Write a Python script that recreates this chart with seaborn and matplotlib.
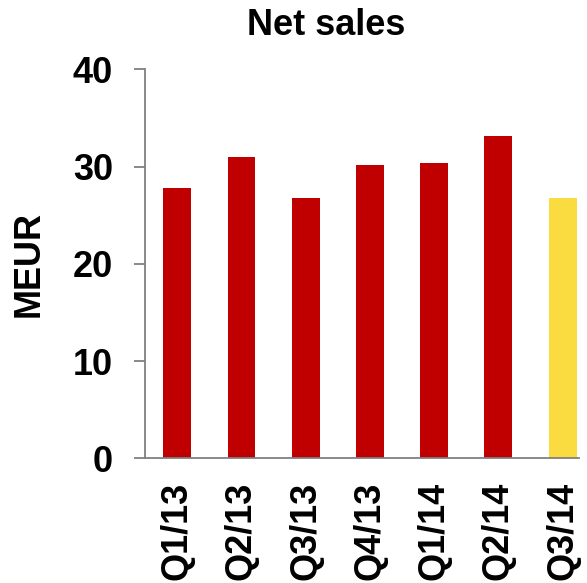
import matplotlib
matplotlib.use("Agg")
import matplotlib.pyplot as plt
import seaborn as sns
import pandas as pd

quarters = ["Q1/13", "Q2/13", "Q3/13", "Q4/13", "Q1/14", "Q2/14", "Q3/14"]
net_sales = [27.8, 31.0, 26.8, 30.2, 30.4, 33.1, 26.8]
bar_colors = ["#C00000", "#C00000", "#C00000", "#C00000", "#C00000", "#C00000", "#FADC40"]
y_ticks = [0, 10, 20, 30, 40]

sns.set_theme(style="white")
plt.rcParams["font.family"] = ["Liberation Sans", "DejaVu Sans"]
plt.rcParams["text.color"] = "black"
plt.rcParams["xtick.color"] = "black"
plt.rcParams["ytick.color"] = "black"

df = pd.DataFrame({"quarter": quarters, "sales": net_sales})

fig = plt.figure(figsize=(5.87, 5.83), dpi=100)
ax = fig.add_axes([0.247, 0.214, 0.740, 0.667])

sns.barplot(data=df, x="quarter", y="sales", hue="quarter",
            palette=dict(zip(quarters, bar_colors)), width=0.435,
            legend=False, ax=ax, saturation=1, linewidth=0)

ax.set_ylim(0, 40)
ax.set_xlim(-0.502, 6.26)
ax.set_yticks(y_ticks)
ax.set_yticklabels([str(t) for t in y_ticks], fontsize=26, fontweight="bold", color="black")
ax.set_xticks(range(len(quarters)))
ax.set_xticklabels(quarters, rotation=90, fontsize=26, fontweight="bold", color="black")
ax.set_xlabel("")
ax.set_ylabel("")

for s in ["top", "right"]:
    ax.spines[s].set_visible(False)
for s in ["left", "bottom"]:
    ax.spines[s].set_color("#808080")
    ax.spines[s].set_linewidth(1.3)

ax.tick_params(axis="y", direction="out", length=8, width=1.3, color="#808080", labelcolor="black", pad=15, left=True)
ax.tick_params(axis="x", length=0, pad=17, labelcolor="black")

fig.text(0.555, 0.957, "Net sales", ha="center", va="center", fontsize=26, fontweight="bold", color="black")
fig.text(0.049, 0.548, "MEUR", ha="center", va="center", rotation=90, fontsize=26, fontweight="bold", color="black")

fig.savefig("out.png", dpi=100)
